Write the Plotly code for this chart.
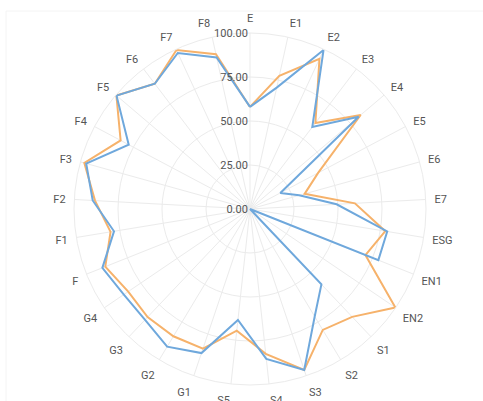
import plotly.graph_objects as go

# Indicator categories around the radar, clockwise from the top
categories = ["E", "E1", "E2", "E3", "E4", "E5", "E6", "E7", "ESG", "EN1", "EN2",
              "S1", "S2", "S3", "S4", "S5", "G1", "G2", "G3", "G4",
              "F", "F1", "F2", "F3", "F4", "F5", "F6", "F7", "F8"]

# Scores (0-100) for the two series
series_blue = [58, 70.6, 99.5, 58.5, 81, 19.5, 29, 49.3, 79, 78.5, 0,
               59, 71.3, 96.5, 85.7, 63.4, 86.4, 91.3, 86.7, 86.6,
               90.3, 78.3, 89.5, 96.6, 78, 99.5, 89.4, 97.7, 88.2]
series_orange = [58, 77.5, 94, 61.4, 82.5, 43.8, 32.2, 59.7, 77.9, 70.6, 99.8,
                 84.4, 80.2, 96.5, 82.8, 69.5, 83.7, 84.4, 84.6, 83.6,
                 88.5, 80.3, 88.2, 97.7, 83.2, 99.6, 89.4, 99.5, 90]

radial_ticks = [0, 25, 50, 75, 100]

BLUE = "#6fa8dc"
ORANGE = "#f6b26b"
GRID = "#ebebeb"


def closed(values):
    return list(values) + [values[0]]


fig = go.Figure()
fig.add_trace(go.Scatterpolar(
    r=closed(series_orange), theta=closed(categories),
    mode="lines", name="Series 2",
    line=dict(color=ORANGE, width=2),
))
fig.add_trace(go.Scatterpolar(
    r=closed(series_blue), theta=closed(categories),
    mode="lines", name="Series 1",
    line=dict(color=BLUE, width=2),
))

W, H = 483, 401
cx, cy, rad = 250, 209, 176

fig.update_layout(
    width=W, height=H,
    margin=dict(l=0, r=0, t=0, b=0),
    paper_bgcolor="white",
    showlegend=False,
    font=dict(family="Roboto", size=11, color="#555555"),
    polar=dict(
        domain=dict(x=[(cx - rad) / W, (cx + rad) / W],
                    y=[1 - (cy + rad) / H, 1 - (cy - rad) / H]),
        bgcolor="white",
        angularaxis=dict(
            direction="clockwise", rotation=90,
            gridcolor=GRID, linecolor=GRID, showline=True,
            ticks="outside", ticklen=6, tickcolor="rgba(0,0,0,0)",
            tickfont=dict(size=11, color="#555555"),
        ),
        radialaxis=dict(
            range=[0, 100], tickvals=radial_ticks, tickformat=".2f",
            angle=90, tickangle=90, side="counterclockwise",
            showline=False, gridcolor=GRID, ticks="",
            tickfont=dict(size=11, color="#555555"),
        ),
    ),
    shapes=[dict(type="rect", xref="paper", yref="paper",
                 x0=6 / W, x1=1.05, y0=-0.05, y1=1 - 11 / H,
                 line=dict(color="#f4f4f4", width=1), layer="below")],
)

fig.write_html("out.html")
